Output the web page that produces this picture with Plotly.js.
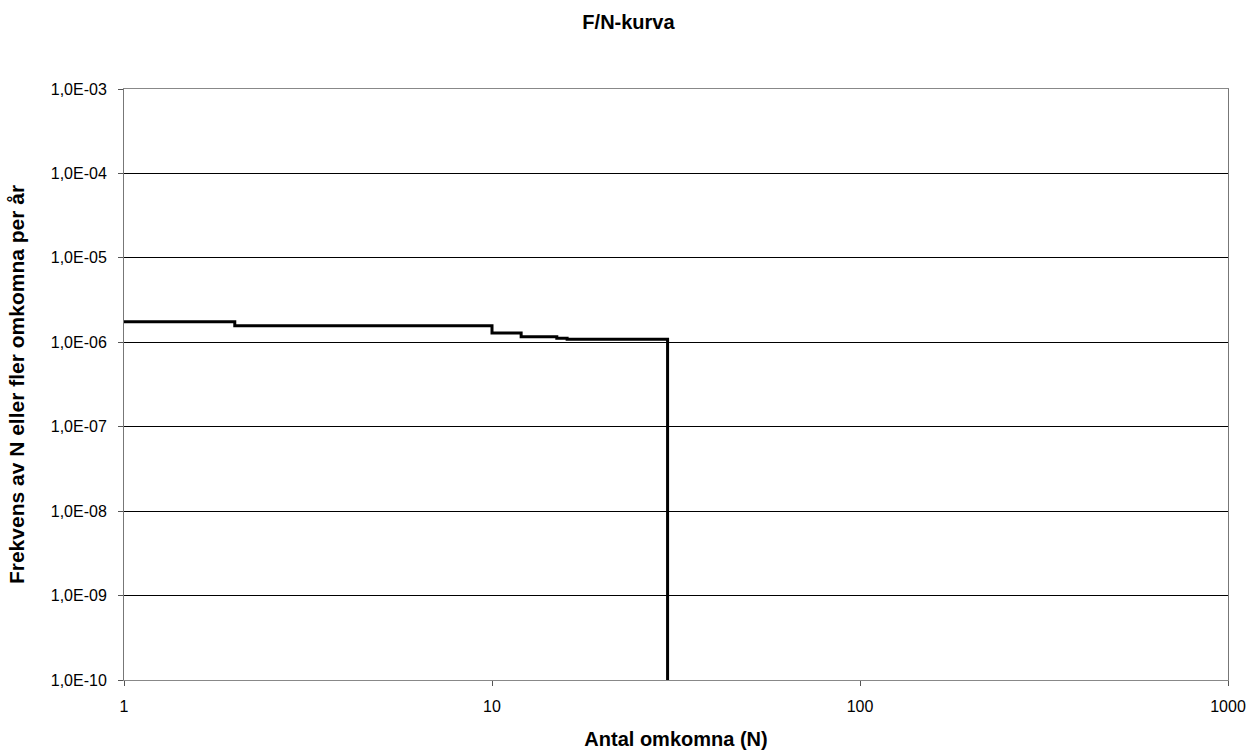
<!DOCTYPE html>
<html>
<head>
<meta charset="utf-8">
<script src="https://cdn.plot.ly/plotly-3.0.1.min.js"></script>
<style>html,body{margin:0;padding:0;background:#fff;}#chart{width:1247px;height:751px;}</style>
</head>
<body>
<div id="chart"></div>
<script>
// Data: F/N curve (step function)
const antalOmkomna = [1, 2, 10, 12, 15, 16, 30];
const frekvens = [1.75e-6, 1.57e-6, 1.29e-6, 1.16e-6, 1.12e-6, 1.085e-6, 1e-12];

const yTickVals = [1e-10, 1e-9, 1e-8, 1e-7, 1e-6, 1e-5, 1e-4, 1e-3];
const yTickText = ["1,0E-10", "1,0E-09", "1,0E-08", "1,0E-07", "1,0E-06", "1,0E-05", "1,0E-04", "1,0E-03"];
const xTickVals = [1, 10, 100, 1000];
const xTickText = ["1", "10", "100", "1000"];

const font = "Liberation Sans, Arial, sans-serif";

const trace = {
  x: antalOmkomna,
  y: frekvens,
  type: "scatter",
  mode: "lines",
  line: {shape: "hv", color: "#000", width: 3},
  hoverinfo: "x+y"
};

const layout = {
  width: 1247,
  height: 751,
  paper_bgcolor: "#fff",
  plot_bgcolor: "#fff",
  margin: {l: 124, r: 19, t: 89, b: 71},
  showlegend: false,
  title: {
    text: "<b>F/N-kurva</b>",
    font: {family: font, size: 20, color: "#000"},
    x: 0.504, xanchor: "center",
    y: 0.971, yanchor: "middle"
  },
  xaxis: {
    type: "log",
    range: [0, 3],
    tickvals: xTickVals,
    ticktext: xTickText,
    ticks: "outside",
    ticklen: 5,
    tickcolor: "#555",
    ticklabelstandoff: 7,
    showgrid: false,
    zeroline: false,
    showline: true,
    linecolor: "#888",
    linewidth: 1,
    mirror: true,
    tickfont: {family: font, size: 16, color: "#000"},
    title: {text: "<b>Antal omkomna (N)</b>", font: {family: font, size: 20, color: "#000"}, standoff: 17}
  },
  yaxis: {
    type: "log",
    range: [-10, -3],
    tickvals: yTickVals,
    ticktext: yTickText,
    ticks: "outside",
    ticklen: 5,
    tickcolor: "#555",
    ticklabelstandoff: 8,
    showgrid: true,
    gridcolor: "#000",
    gridwidth: 1,
    zeroline: false,
    showline: true,
    linecolor: "#777",
    linewidth: 1,
    mirror: true,
    tickfont: {family: font, size: 16, color: "#000"},
    title: {text: "<b>Frekvens av N eller fler omkomna per år</b>", font: {family: font, size: 21, color: "#000"}, standoff: 20}
  }
};

Plotly.newPlot("chart", [trace], layout, {displayModeBar: false, staticPlot: true});
</script>
</body>
</html>
